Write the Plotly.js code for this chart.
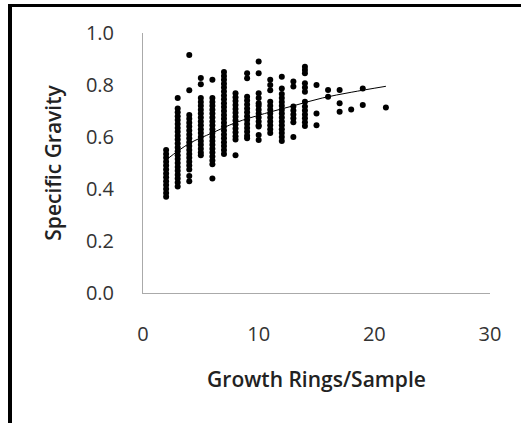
<!DOCTYPE html>
<html>
<head>
<meta charset="utf-8">
<script src="https://cdn.plot.ly/plotly-3.0.1.min.js"></script>
<style>
  html, body { margin: 0; padding: 0; background: #fff; }
  #wrap { position: relative; width: 521px; height: 423px; overflow: hidden; }
  #chart { width: 521px; height: 423px; }
  #frame { position: absolute; left: 8px; top: 4px; width: 530px; height: 440px;
           border-left: 4px solid #000; border-top: 3px solid #000; pointer-events: none; }
</style>
</head>
<body>
<div id="wrap">
  <div id="chart"></div>
  <div id="frame"></div>
</div>
<script>
// Growth rings per sample (x columns) and specific gravity values
var col2  = [0.370,0.385,0.400,0.415,0.430,0.445,0.460,0.475,0.490,0.505,0.520,0.535,0.550];
var col3  = [0.750,0.710,0.695,0.680,0.665,0.650,0.635,0.620,0.605,0.590,0.575,0.560,0.545,0.530,0.515,0.500,0.485,0.470,0.455,0.440,0.425,0.410];
var col4  = [0.915,0.780,0.685,0.670,0.655,0.640,0.625,0.610,0.595,0.580,0.565,0.550,0.535,0.520,0.505,0.490,0.475,0.450,0.430];
var col5  = [0.827,0.803,0.750,0.735,0.720,0.705,0.690,0.675,0.660,0.645,0.630,0.615,0.600,0.585,0.570,0.555,0.540,0.530];
var col6  = [0.820,0.750,0.735,0.720,0.705,0.690,0.675,0.660,0.645,0.630,0.615,0.600,0.585,0.570,0.555,0.540,0.525,0.510,0.495,0.440];
var col7  = [0.850,0.835,0.820,0.805,0.790,0.775,0.760,0.745,0.730,0.715,0.700,0.685,0.670,0.655,0.640,0.625,0.610,0.595,0.580,0.565,0.550,0.535];
var col8  = [0.768,0.753,0.738,0.723,0.708,0.693,0.678,0.663,0.648,0.633,0.618,0.603,0.590,0.530];
var col9  = [0.845,0.826,0.755,0.740,0.725,0.710,0.695,0.680,0.665,0.650,0.635,0.620,0.605,0.595];
var col10 = [0.890,0.845,0.768,0.750,0.730,0.720,0.705,0.690,0.675,0.660,0.645,0.640,0.608,0.588];
var col11 = [0.820,0.800,0.780,0.736,0.720,0.705,0.690,0.675,0.660,0.645,0.630,0.615];
var col12 = [0.832,0.787,0.765,0.750,0.735,0.720,0.705,0.690,0.675,0.660,0.645,0.630,0.615,0.600,0.585];
var col13 = [0.813,0.794,0.717,0.702,0.687,0.672,0.657,0.600];
var col14 = [0.870,0.858,0.845,0.807,0.790,0.774,0.736,0.717,0.702,0.687,0.672,0.657,0.642];
var col15 = [0.800,0.690,0.645];
var col16 = [0.781,0.755];
var col17 = [0.781,0.730,0.697];
var col18 = [0.706];
var col19 = [0.787,0.723];
var col21 = [0.713];

var ringCounts = [2,3,4,5,6,7,8,9,10,11,12,13,14,15,16,17,18,19,21];
var columns = [col2,col3,col4,col5,col6,col7,col8,col9,col10,col11,col12,col13,col14,col15,col16,col17,col18,col19,col21];

// Trend line
var trendX = [2, 4, 6, 8, 10.5, 13, 15.5, 18, 21];
var trendY = [0.512, 0.575, 0.616, 0.655, 0.690, 0.720, 0.750, 0.772, 0.795];

var xTicks = [0, 10, 20, 30];
var yTicks = [0.0, 0.2, 0.4, 0.6, 0.8, 1.0];
var yTickText = ['0.0','0.2','0.4','0.6','0.8','1.0'];

var px = [], py = [];
columns.forEach(function (vals, i) {
  vals.forEach(function (v) { px.push(ringCounts[i]); py.push(v); });
});

var fontFam = '"Open Sans", Lato, sans-serif';

var data = [
  { type: 'scatter', mode: 'markers', x: px, y: py, name: 'Specific Gravity',
    marker: { color: '#000', size: 6 }, hoverinfo: 'x+y' },
  { type: 'scatter', mode: 'lines', x: trendX, y: trendY, name: 'Trend',
    line: { color: '#000', width: 1, shape: 'spline' }, hoverinfo: 'skip' }
];

var layout = {
  width: 521, height: 423,
  margin: { l: 143, r: 31, t: 33, b: 130 },
  paper_bgcolor: '#fff', plot_bgcolor: '#fff',
  showlegend: false,
  font: { family: fontFam, color: '#333', size: 20 },
  xaxis: {
    range: [0, 30], tickvals: xTicks, ticks: '', showgrid: false, zeroline: false,
    showline: true, linecolor: '#aaa', linewidth: 1,
    ticklabelstandoff: 23,
    tickfont: { family: fontFam, size: 20, color: '#333' },
    title: { text: 'Growth Rings/Sample', standoff: 26,
             font: { family: fontFam, size: 21, color: '#222', weight: 600 } },
    automargin: false
  },
  yaxis: {
    range: [0, 1.0], tickvals: yTicks, ticktext: yTickText, ticks: '', showgrid: false, zeroline: false,
    showline: true, linecolor: '#aaa', linewidth: 1,
    ticklabelstandoff: 24,
    tickfont: { family: fontFam, size: 20, color: '#333' },
    title: { text: 'Specific Gravity', standoff: 18,
             font: { family: fontFam, size: 21, color: '#222', weight: 600 } },
    automargin: false
  }
};

Plotly.newPlot('chart', data, layout, { displayModeBar: false, staticPlot: true });
</script>
</body>
</html>
